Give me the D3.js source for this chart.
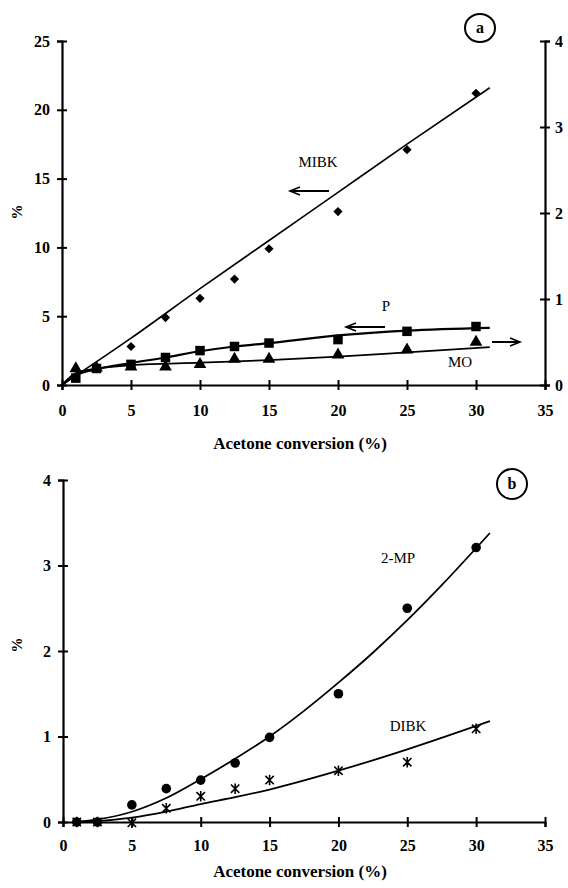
<!DOCTYPE html>
<html>
<head>
<meta charset="utf-8">
<script src="https://cdn.jsdelivr.net/npm/d3@7"></script>
<style>
  body { margin: 0; background: #fff; }
  text { font-family: "Liberation Serif", "Times New Roman", serif; fill: #000; }
</style>
</head>
<body>
<div id="chart"></div>
<script>
// panel a: left axis % (MIBK, P), right axis (MO)
const convA = [1, 2.5, 5, 7.5, 10, 12.5, 15, 20, 25, 30];
const mibk = [0.5, 1.3, 2.8, 4.9, 6.3, 7.7, 9.9, 12.6, 17.1, 21.2];
const pVals = [0.5, 1.2, 1.5, 2.0, 2.5, 2.8, 3.05, 3.3, 3.9, 4.25];
const moVals = [0.19, 0.2, 0.21, 0.21, 0.24, 0.3, 0.3, 0.35, 0.41, 0.5]; // right axis

// fitted curves
const mibkFit = [[0, 0], [5, 3.4], [10, 7], [15, 10.5], [20, 14], [25, 17.5], [31, 21.6]];
const pFit = [[0, 0], [1, 0.7], [2.5, 1.15], [5, 1.6], [7.5, 2.0], [10, 2.45], [12.5, 2.8], [15, 3.05], [20, 3.6], [25, 3.95], [31, 4.15]];
const moFit = [[0, 0], [1, 0.14], [2.5, 0.19], [5, 0.23], [10, 0.26], [15, 0.29], [20, 0.33], [25, 0.38], [31, 0.44]];

// panel b
const convB = [1, 2.5, 5, 7.5, 10, 12.5, 15, 20, 25, 30];
const mp2 = [0, 0, 0.2, 0.39, 0.49, 0.69, 0.99, 1.5, 2.5, 3.21];
const dibk = [0, 0, -0.01, 0.16, 0.3, 0.39, 0.49, 0.6, 0.7, 1.09];
const mp2Fit = [[1, 0], [2.5, 0.03], [5, 0.12], [7.5, 0.28], [10, 0.5], [12.5, 0.74], [15, 1.0], [17.5, 1.3], [20, 1.63], [22.5, 1.98], [25, 2.36], [27.5, 2.77], [31, 3.38]];
const dibkFit = [[1, 0], [2.5, 0.01], [5, 0.05], [7.5, 0.12], [10, 0.21], [12.5, 0.29], [15, 0.38], [20, 0.6], [25, 0.85], [31, 1.18]];

const xTicks = [0, 5, 10, 15, 20, 25, 30, 35];
const yTicksA = [0, 5, 10, 15, 20, 25];
const yTicksR = [0, 1, 2, 3, 4];
const yTicksB = [0, 1, 2, 3, 4];

const width = 568, height = 888;
const svg = d3.select("#chart").append("svg")
    .attr("width", width)
    .attr("height", height);

let xA = d3.scaleLinear().domain([0, 35]).range([62, 545]);
let yL = d3.scaleLinear().domain([0, 25]).range([385, 41]);
let yR = d3.scaleLinear().domain([0, 4]).range([385, 41]);

let xB = d3.scaleLinear().domain([0, 35]).range([63, 545]);
let yB = d3.scaleLinear().domain([0, 4]).range([822, 480]);

const fmt = d3.format("d");

function styleAxis(g, orient) {
    g.select(".domain").attr("stroke", "#000").attr("stroke-width", 2.2);
    g.selectAll(".tick line").attr("stroke", "#000").attr("stroke-width", 2);
    if (orient == "bottom") g.selectAll(".tick line").attr("y1", -5).attr("y2", 5);
    else g.selectAll(".tick line").attr("x1", -5).attr("x2", 5);
    g.selectAll(".tick text")
        .style("font-family", '"Liberation Serif", serif')
        .style("font-weight", "bold")
        .style("font-size", "16px");
}

function drawPanel(x, y, yTicks, xLabelY, titleY) {
    let gx = svg.append("g")
        .attr("transform", `translate(0,${y(0)})`)
        .call(d3.axisBottom(x).tickValues(xTicks).tickFormat(fmt).tickSizeOuter(0).tickSize(5));
    styleAxis(gx, "bottom");
    gx.selectAll(".tick text").attr("y", xLabelY - y(0)).attr("dy", "0.35em");

    let gy = svg.append("g")
        .attr("transform", `translate(${x(0)},0)`)
        .call(d3.axisLeft(y).tickValues(yTicks).tickFormat(fmt).tickSizeOuter(0).tickSize(5));
    styleAxis(gy, "left");
    gy.selectAll(".tick text").attr("x", -12);

    svg.append("text")
        .attr("x", 300).attr("y", titleY)
        .attr("text-anchor", "middle")
        .attr("dominant-baseline", "middle")
        .style("font-weight", "bold")
        .style("font-size", "17px")
        .text("Acetone conversion (%)");
}

const line = (x, y) => d3.line().x(d => x(d[0])).y(d => y(d[1])).curve(d3.curveMonotoneX);

// star marker: vertical bar with an X through it
const starSymbol = {
    draw(ctx, size) {
        let r = Math.sqrt(size) / 2;
        ctx.moveTo(0, -r); ctx.lineTo(0, r);
        ctx.moveTo(-r * 0.8, -r * 0.8); ctx.lineTo(r * 0.8, r * 0.8);
        ctx.moveTo(-r * 0.8, r * 0.8); ctx.lineTo(r * 0.8, -r * 0.8);
    }
};

// ---------- panel a ----------
drawPanel(xA, yL, yTicksA, 410, 445);

let gr = svg.append("g")
    .attr("transform", `translate(${xA(35)},0)`)
    .call(d3.axisRight(yR).tickValues(yTicksR).tickFormat(fmt).tickSizeOuter(0).tickSize(5));
styleAxis(gr, "right");
gr.selectAll(".tick text").attr("x", 10);

svg.append("text")
    .attr("transform", `translate(19,212) rotate(-90)`)
    .attr("text-anchor", "middle")
    .attr("dominant-baseline", "middle")
    .style("font-weight", "bold")
    .style("font-size", "15px")
    .text("%");

svg.append("path").datum(mibkFit)
    .attr("d", line(xA, yL))
    .attr("fill", "none").attr("stroke", "#000").attr("stroke-width", 1.6);
svg.append("path").datum(pFit)
    .attr("d", line(xA, yL))
    .attr("fill", "none").attr("stroke", "#000").attr("stroke-width", 2.2);
svg.append("path").datum(moFit)
    .attr("d", line(xA, yR))
    .attr("fill", "none").attr("stroke", "#000").attr("stroke-width", 1.8);

svg.append("g").selectAll("path")
    .data(convA.map((c, i) => [c, mibk[i]]))
    .join("path")
    .attr("transform", d => `translate(${xA(d[0])},${yL(d[1])}) rotate(45)`)
    .attr("d", d3.symbol(d3.symbolSquare, 42));

svg.append("g").selectAll("path")
    .data(convA.map((c, i) => [c, pVals[i]]))
    .join("path")
    .attr("transform", d => `translate(${xA(d[0])},${yL(d[1])})`)
    .attr("d", d3.symbol(d3.symbolSquare, 90));

svg.append("g").selectAll("path")
    .data(convA.map((c, i) => [c, moVals[i]]))
    .join("path")
    .attr("transform", d => `translate(${xA(d[0])},${yR(d[1])})`)
    .attr("d", d3.symbol(d3.symbolTriangle, 70));

// series labels + arrows
function arrow(x1, x2, yy, dir) {
    svg.append("line")
        .attr("x1", x1).attr("x2", x2).attr("y1", yy).attr("y2", yy)
        .attr("stroke", "#000").attr("stroke-width", 2);
    let tip = dir < 0 ? x1 : x2;
    svg.append("path")
        .attr("d", `M${tip - dir * 10},${yy - 4} L${tip},${yy} L${tip - dir * 10},${yy + 4}`)
        .attr("fill", "none").attr("stroke", "#000").attr("stroke-width", 1.6);
}

function label(txt, x, y) {
    svg.append("text")
        .attr("x", x).attr("y", y)
        .attr("text-anchor", "middle")
        .attr("dominant-baseline", "middle")
        .style("font-size", "15px")
        .text(txt);
}

label("MIBK", 318, 164);
arrow(290, 329, 191, -1);
label("P", 386, 308);
arrow(346, 385, 327, -1);
label("MO", 460, 364);
arrow(492, 520, 342, 1);

svg.append("ellipse")
    .attr("cx", 480).attr("cy", 28).attr("rx", 15).attr("ry", 14)
    .attr("fill", "none").attr("stroke", "#000").attr("stroke-width", 2);
svg.append("text")
    .attr("x", 480).attr("y", 29)
    .attr("text-anchor", "middle").attr("dominant-baseline", "middle")
    .style("font-weight", "bold").style("font-size", "16px")
    .text("a");

// ---------- panel b ----------
drawPanel(xB, yB, yTicksB, 845, 873);

svg.append("text")
    .attr("transform", `translate(19,645) rotate(-90)`)
    .attr("text-anchor", "middle")
    .attr("dominant-baseline", "middle")
    .style("font-weight", "bold")
    .style("font-size", "15px")
    .text("%");

svg.append("path").datum(mp2Fit)
    .attr("d", line(xB, yB))
    .attr("fill", "none").attr("stroke", "#000").attr("stroke-width", 1.8);
svg.append("path").datum(dibkFit)
    .attr("d", line(xB, yB))
    .attr("fill", "none").attr("stroke", "#000").attr("stroke-width", 1.8);

svg.append("g").selectAll("circle")
    .data(convB.map((c, i) => [c, mp2[i]]))
    .join("circle")
    .attr("cx", d => xB(d[0])).attr("cy", d => yB(d[1]))
    .attr("r", 4.8);

svg.append("g").selectAll("path")
    .data(convB.map((c, i) => [c, dibk[i]]))
    .join("path")
    .attr("transform", d => `translate(${xB(d[0])},${yB(d[1])})`)
    .attr("d", d3.symbol(starSymbol, 110))
    .attr("fill", "none").attr("stroke", "#000").attr("stroke-width", 1.6);

label("2-MP", 398, 560);
label("DIBK", 408, 728);

svg.append("ellipse")
    .attr("cx", 512).attr("cy", 484).attr("rx", 15).attr("ry", 15)
    .attr("fill", "none").attr("stroke", "#000").attr("stroke-width", 2);
svg.append("text")
    .attr("x", 512).attr("y", 485)
    .attr("text-anchor", "middle").attr("dominant-baseline", "middle")
    .style("font-weight", "bold").style("font-size", "16px")
    .text("b");
</script>
</body>
</html>
